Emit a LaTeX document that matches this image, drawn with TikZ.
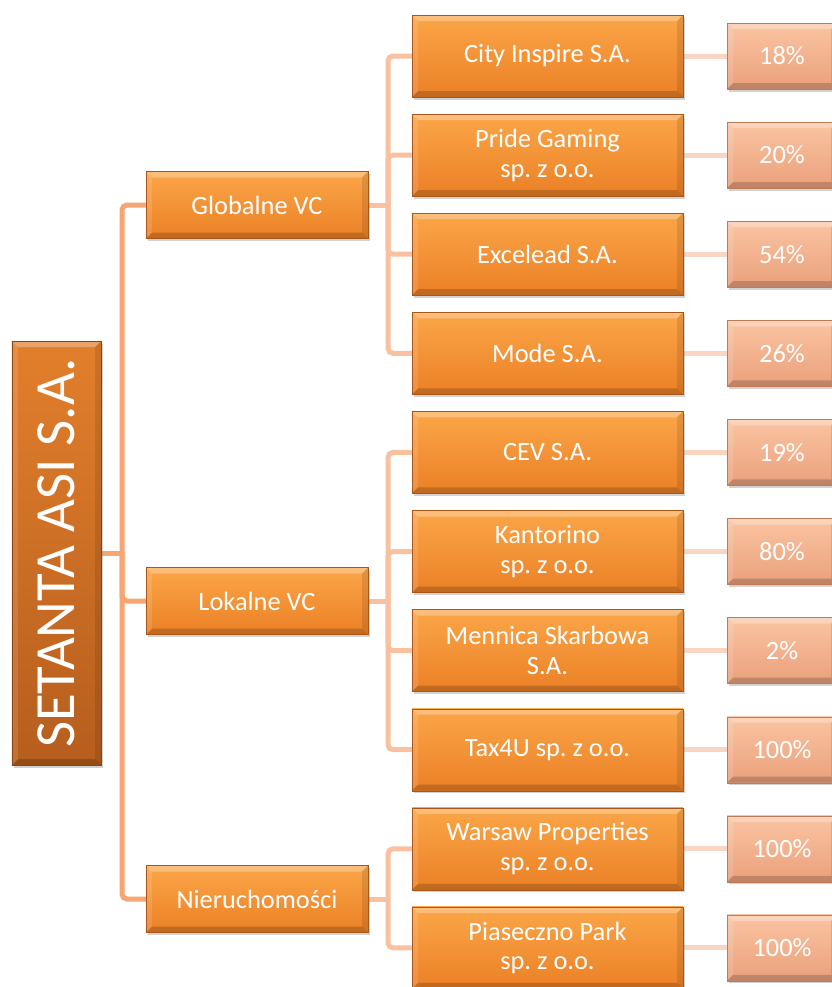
\documentclass[tikz,border=0pt]{standalone}
\usepackage{fontspec}
\setmainfont{Carlito}
\usepackage{tikz}
\usetikzlibrary{calc,positioning,shadows,backgrounds}
\frenchspacing
\definecolor{orTop}{HTML}{FBA648}
\definecolor{orBot}{HTML}{EB8026}
\definecolor{orEdge}{HTML}{A8561A}
\definecolor{rtTop}{HTML}{E27F2C}
\definecolor{rtBot}{HTML}{B65E1E}
\definecolor{rtEdge}{HTML}{8A4513}
\definecolor{pcTop}{HTML}{FBC4A2}
\definecolor{pcBot}{HTML}{EAA07B}
\definecolor{pcEdge}{HTML}{C07A55}
\definecolor{linA}{HTML}{F7A572}
\definecolor{linB}{HTML}{F9C1A0}
\definecolor{linC}{HTML}{FAD5C4}
\tikzset{
  bevel/.style={path picture={
    \fill[white,opacity=.28] (path picture bounding box.north west) -- (path picture bounding box.north east)
       -- ++(-6bp,-6bp) -- ($(path picture bounding box.north west)+(6bp,-6bp)$) -- cycle;
    \fill[black,opacity=.18] (path picture bounding box.south west) -- (path picture bounding box.south east)
       -- ++(-6bp,6bp) -- ($(path picture bounding box.south west)+(6bp,6bp)$) -- cycle;
    \fill[black,opacity=.10] (path picture bounding box.north east) -- (path picture bounding box.south east)
       -- ++(-6bp,6bp) -- ($(path picture bounding box.north east)+(-6bp,-6bp)$) -- cycle;
    \fill[white,opacity=.12] (path picture bounding box.north west) -- (path picture bounding box.south west)
       -- ++(6bp,6bp) -- ($(path picture bounding box.north west)+(6bp,-6bp)$) -- cycle;
  }},
  boxbase/.style={rectangle,inner sep=0pt,align=center,text=white,bevel,
    drop shadow={shadow xshift=2bp,shadow yshift=-2.5bp,opacity=.35}},
  rootbox/.style={boxbase,draw=rtEdge,top color=rtTop,bottom color=rtBot,
    minimum width=89bp,minimum height=424bp},
  unitbox/.style={boxbase,draw=orEdge,top color=orTop,bottom color=orBot,
    minimum width=222bp,minimum height=67bp,font=\fontsize{26.5}{30}\selectfont},
  firmbox/.style={boxbase,draw=orEdge,top color=orTop,bottom color=orBot,
    minimum width=271bp,minimum height=82bp,font=\fontsize{26.5}{30}\selectfont},
  sharebox/.style={boxbase,draw=pcEdge,top color=pcTop,bottom color=pcBot,
    minimum width=110bp,minimum height=66bp,font=\fontsize{26.5}{30}\selectfont},
  lineA/.style={draw=linA,line width=5bp,rounded corners=5bp},
  lineB/.style={draw=linB,line width=5bp,rounded corners=5bp},
  lineC/.style={draw=linC,line width=5bp},
}
\begin{document}
\begin{tikzpicture}[x=1bp,y=-1bp]
\useasboundingbox (0,0) rectangle (832,987);
\clip (0,0) rectangle (832,987);
% Sammelpunkte der Verbindungen
\coordinate (trunk) at (122,553);
\coordinate (globhub) at (388,205);
\coordinate (lokhub) at (388,601);
\coordinate (nierhub) at (388,899);
% Ebene 1 und 2
\node[rootbox] (root) at (56.5,553) {};
\node[text=white,rotate=90,font=\fontsize{57}{62}\selectfont] (rootlabel) at (root.center) {SETANTA ASI S.A.};
\node[unitbox] (glob) at (257,205) {Globalne VC};
\node[unitbox] (lok) at (257,601) {Lokalne VC};
\node[unitbox] (nier) at (257,899) {Nieruchomości};
% Ebene 3 mit Anteilen
\foreach \i/\firm/\share in {1/{City Inspire S.A.}/18\%,2/{Pride Gaming\\sp. z o.o.}/20\%,
    3/{Excelead S.A.}/54\%,4/{Mode S.A.}/26\%,5/{CEV S.A.}/19\%,6/{Kantorino\\sp. z o.o.}/80\%,
    7/{Mennica Skarbowa\\S.A.}/2\%,8/{Tax4U sp. z o.o.}/100\%,9/{Warsaw Properties\\sp. z o.o.}/100\%,
    10/{Piaseczno Park\\sp. z o.o.}/100\%}{
  \pgfmathsetmacro{\yy}{56+(\i-1)*99.1}
  \node[firmbox] (f\i) at (547.5,\yy) {\firm};
  \node[sharebox] (p\i) at (782,\yy) {\share};
}
% Verbindungen hinter den Kaesten
\begin{scope}[on background layer]
\fill[white] (0,0) rectangle (832,987);
\draw[lineA] (root.east) -- (trunk);
\foreach \u in {glob,lok,nier}
  \draw[lineA] (\u.west) -| (trunk);
\draw[lineB] (glob.east) -- (globhub);
\draw[lineB] (lok.east) -- (lokhub);
\draw[lineB] (nier.east) -- (nierhub);
\foreach \i in {1,...,4}
  \draw[lineB] (f\i.west) -| (globhub);
\foreach \i in {5,...,8}
  \draw[lineB] (f\i.west) -| (lokhub);
\foreach \i in {9,10}
  \draw[lineB] (f\i.west) -| (nierhub);
\foreach \i in {1,...,10}
  \draw[lineC] (f\i.east) -- (p\i.west);
\end{scope}
\end{tikzpicture}
\end{document}
